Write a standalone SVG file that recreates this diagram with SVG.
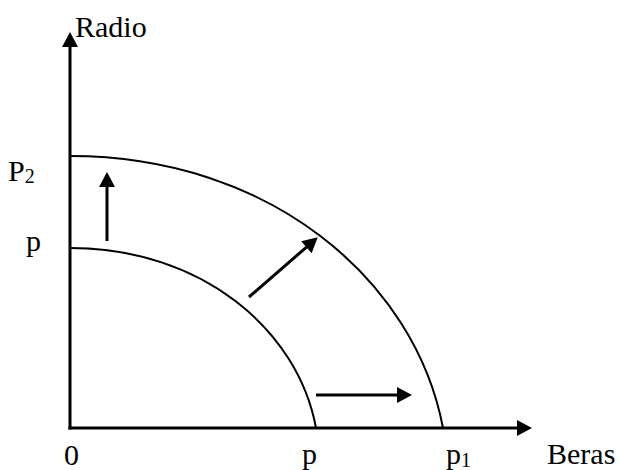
<svg xmlns="http://www.w3.org/2000/svg" width="619" height="470" viewBox="0 0 619 470">
  <style>
    text { font-family: 'Liberation Serif', 'Times New Roman', 'DejaVu Serif', serif; font-size: 30px; fill: #000; }
    .axis { stroke: #000; stroke-width: 3; fill: none; }
    .curve { stroke: #000; stroke-width: 2; fill: none; }
    .arr { stroke: #000; stroke-width: 3; fill: none; }
  </style>
  <defs>
    <marker id="head" markerUnits="userSpaceOnUse" markerWidth="16" markerHeight="16" viewBox="0 0 15 16" refX="7" refY="8" orient="auto">
      <path d="M0,0 L15,8 L0,16 Z" fill="#000"/>
    </marker>
  </defs>

  <g id="axes">
    <line class="axis" x1="70" y1="429.5" x2="70" y2="40" marker-end="url(#head)"/>
    <line class="axis" x1="68.5" y1="428" x2="524" y2="428" marker-end="url(#head)"/>
  </g>

  <g id="curve-outer">
    <path class="curve" d="M70,156 C270,156 415,280 443,428"/>
  </g>
  <g id="curve-inner">
    <path class="curve" d="M70,248 C202,248 298,330 316,428"/>
  </g>

  <g id="connectors">
    <line class="arr" x1="107" y1="241" x2="107" y2="180" marker-end="url(#head)"/>
    <line class="arr" x1="249" y1="297" x2="311.7" y2="242.6" marker-end="url(#head)"/>
    <line class="arr" x1="316" y1="395" x2="404" y2="395" marker-end="url(#head)"/>
  </g>

  <g id="labels" font-family="Liberation Serif, serif">
    <text x="75" y="37">Radio</text>
    <text x="8" y="181">P<tspan font-size="20" dy="2">2</tspan></text>
    <text x="26" y="251">p</text>
    <text x="64" y="465">0</text>
    <text x="302" y="464">p</text>
    <text x="446" y="464">p<tspan font-size="20" dy="3">1</tspan></text>
    <text x="547" y="464">Beras</text>
  </g>
</svg>
